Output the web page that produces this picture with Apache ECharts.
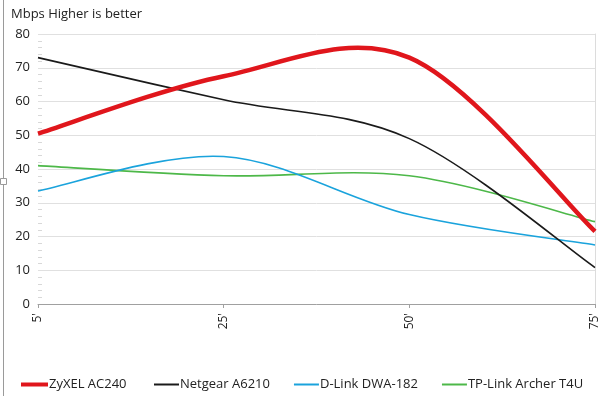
<!DOCTYPE html>
<html><head><meta charset="utf-8">
<script src="https://cdn.jsdelivr.net/npm/echarts@6/dist/echarts.min.js"></script>
<style>html,body{margin:0;padding:0;background:#fff}#c{width:601px;height:396px}</style>
</head><body><div id="c"></div>
<script>
const categories = ["5'", "25'", "50'", "75'"];
const zyxel = [50.5, 67.5, 73, 21.5];
const netgear = [73, 60.5, 49, 10.8];
const dlink = [33.5, 43.7, 26.5, 17.5];
const tplink = [41, 38, 38, 24.4];
const seriesNames = ["ZyXEL AC240", "Netgear A6210", "D-Link DWA-182", "TP-Link Archer T4U"];
const yTicks = [0, 80, 10];

const font = "'Open Sans', 'Noto Sans', sans-serif";
const chart = echarts.init(document.getElementById('c'), null, {renderer: 'canvas'});

// Excel-like Catmull-Rom smoothing, positions computed through the axes (api.coord)
function smoothSeries(name, values, color, width, z) {
  return {
    name, type: 'custom', z,
    itemStyle: {color},
    encode: {x: 0, y: 1},
    data: values.map((v, i) => [i, v]),
    renderItem(params, api) {
      if (params.dataIndex !== 0) return null;
      const p = values.map((v, i) => api.coord([i, v]));
      const n = p.length;
      let d = 'M' + p[0][0] + ' ' + p[0][1];
      for (let i = 0; i < n - 1; i++) {
        const p0 = p[Math.max(i - 1, 0)], p1 = p[i], p2 = p[i + 1], p3 = p[Math.min(i + 2, n - 1)];
        const c1x = p1[0] + (p2[0] - p0[0]) / 6, c1y = p1[1] + (p2[1] - p0[1]) / 6;
        const c2x = p2[0] - (p3[0] - p1[0]) / 6, c2y = p2[1] - (p3[1] - p1[1]) / 6;
        d += ' C' + c1x + ' ' + c1y + ' ' + c2x + ' ' + c2y + ' ' + p2[0] + ' ' + p2[1];
      }
      return {type: 'path', shape: {pathData: d},
        style: {fill: null, stroke: color, lineWidth: width, lineJoin: 'round', lineCap: 'butt'}};
    }
  };
}

const legendText = {fontFamily: font, fontSize: 13, color: '#222', padding: [0, 0, 0, -4]};
chart.setOption({
  animation: false,
  textStyle: {fontFamily: font},
  title: {text: 'Mbps Higher is better', left: 6, top: 3,
    textStyle: {fontFamily: font, fontSize: 13, fontWeight: 'normal', color: '#222'}},
  graphic: [
    {type: 'line', shape: {x1: 3.5, y1: 0, x2: 3.5, y2: 396}, style: {stroke: '#9a9a9a', lineWidth: 1}},
    {type: 'rect', shape: {x: 0.5, y: 178.5, width: 6, height: 6}, style: {fill: '#fff', stroke: '#9a9a9a', lineWidth: 1}}
  ],
  grid: {left: 38, right: 6, top: 34, bottom: 92},
  legend: [
    {top: 373, left: 16, itemWidth: 27, itemHeight: 4, icon: 'rect', textStyle: legendText,
      data: [seriesNames[0]]},
    {top: 378, left: 154, right: 0, padding: 0, itemWidth: 25, itemHeight: 2, itemGap: 24, icon: 'rect',
      textStyle: legendText, data: seriesNames.slice(1)}
  ],
  xAxis: {type: 'category', data: categories, boundaryGap: false,
    axisLine: {lineStyle: {color: '#a0a0a0'}},
    axisTick: {show: true, alignWithLabel: true, length: 4, lineStyle: {color: '#a0a0a0'}},
    axisLabel: {rotate: 90, fontSize: 12, color: '#222', margin: 9}},
  yAxis: [
    {type: 'value', min: yTicks[0], max: yTicks[1], interval: yTicks[2],
      axisLine: {show: false}, axisTick: {show: false, inside: true},
      minorTick: {show: true, splitNumber: 5, length: 4, lineStyle: {color: '#d8d8d8'}},
      splitLine: {lineStyle: {color: '#e0e0e0', width: 1}},
      axisLabel: {fontSize: 13, color: '#222', margin: 8}},
    {type: 'value', position: 'right', min: yTicks[0], max: yTicks[1], interval: yTicks[2],
      axisLine: {show: true, lineStyle: {color: '#dcdcdc'}}, axisTick: {show: false},
      axisLabel: {show: false}, splitLine: {show: false}}
  ],
  series: [
    smoothSeries(seriesNames[0], zyxel, '#e0161c', 4.5, 5),
    smoothSeries(seriesNames[1], netgear, '#1a1a1a', 1.6, 4),
    smoothSeries(seriesNames[2], dlink, '#1aa3dc', 1.6, 3),
    smoothSeries(seriesNames[3], tplink, '#4db849', 1.6, 2)
  ]
});
</script></body></html>
